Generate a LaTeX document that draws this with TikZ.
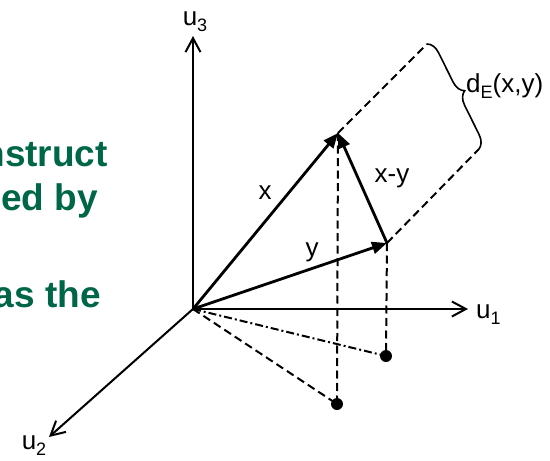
\documentclass[tikz,border=0pt]{standalone}
\usepackage{fontspec}
\setmainfont{Liberation Sans}
\usetikzlibrary{arrows.meta,decorations.pathreplacing}
\definecolor{dkgreen}{RGB}{0,102,72}
\newcommand{\mysub}[1]{\raisebox{-0.45ex}{\fontsize{18}{20}\selectfont #1}}
\tikzset{
  axis/.style={line width=2pt,-{Straight Barb[length=14pt,width=15pt,line width=2pt]}},
  vec/.style={line width=2.8pt,-{Triangle[length=15pt,width=12pt]}},
  dsh/.style={line width=2pt,dash pattern=on 8pt off 4.5pt},
  dshdot/.style={line width=2pt,dash pattern=on 8pt off 3pt on 2pt off 3pt},
  lbl/.style={font=\fontsize{26}{30}\selectfont,inner sep=0pt},
  greentxt/.style={font=\fontsize{37}{44}\selectfont\bfseries,text=dkgreen,inner sep=0pt,anchor=base east},
  dot/.style={circle,fill=black,inner sep=0pt,minimum size=12pt}
}
\begin{document}
\begin{tikzpicture}[x=1pt,y=-1pt]
\useasboundingbox (0,0) rectangle (550,461);
% green text (clipped at left edge, as in the reference)
\begin{scope}
\clip (0,0) rectangle (550,461);
\node[greentxt] (t1) at (108,166) {nstruct};
\node[greentxt] (t2) at (98,210) {ed by};
\node[greentxt] (t3) at (101,307) {as the};
\end{scope}
% points
\coordinate (O) at (193,309);
\coordinate (U3) at (193,36);
\coordinate (U1) at (468,309);
\coordinate (U2) at (49,437);
\coordinate (X) at (338,133);
\coordinate (Y) at (387,243);
\node[dot] (PX) at (337,404) {};
\node[dot] (PY) at (386,356) {};
\coordinate (BT) at (427,44);
\coordinate (BB) at (479,149);
% projections
\draw[dsh] (X) -- (PX.center);
\draw[dsh] (Y) -- (PY.center);
\draw[dsh] (O) -- (PX.center);
\draw[dshdot] (O) -- (PY.center);
% distance box
\draw[dsh] (X) -- (BT);
\draw[dsh] (Y) -- (BB);
\draw[line width=1.6pt,decorate,decoration={brace,amplitude=13pt}] (BT) -- (BB);
% axes
\draw[axis] (O) -- (U3);
\draw[axis] (O) -- (U1);
\draw[axis] (O) -- (U2);
% vectors
\draw[vec] (O) -- (X);
\draw[vec] (O) -- (Y);
\draw[vec] (Y) -- (X);
% labels
\node[lbl] (l3) at (195,22) {u\mysub{3}};
\node[lbl,anchor=west] (l1) at (476,315) {u\mysub{1}};
\node[lbl] (l2) at (34,446) {u\mysub{2}};
\node[lbl] (lx) at (265,193) {x};
\node[lbl] (ly) at (312,252) {y};
\node[lbl] (lxy) at (392,178) {x-y};
\node[lbl,anchor=west] (ld) at (466,86) {d\mysub{E}(x,y)};
\end{tikzpicture}
\end{document}
